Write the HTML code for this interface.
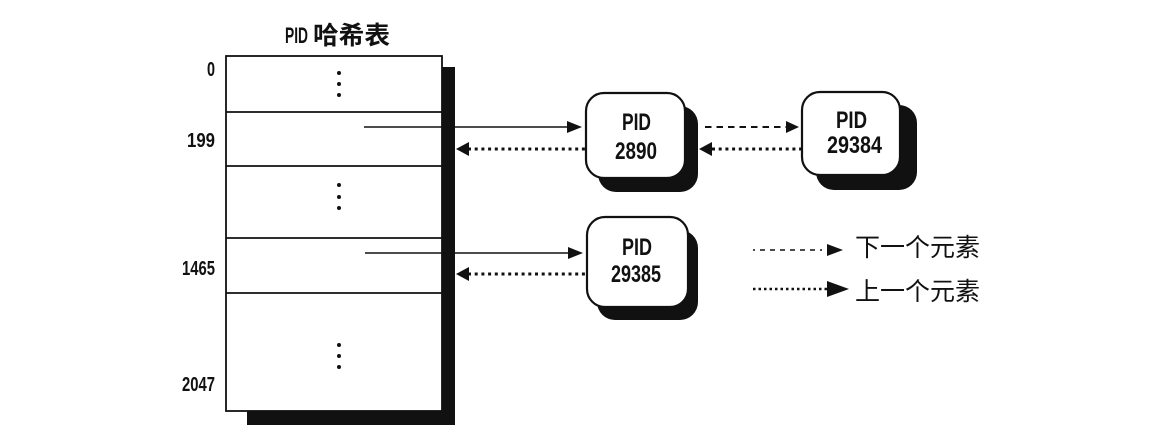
<!DOCTYPE html>
<html><head><meta charset="utf-8"><style>
html,body{margin:0;padding:0;background:#fff;}
svg{display:block;}
</style></head><body>
<svg width="1163" height="441" viewBox="0 0 1163 441" xmlns="http://www.w3.org/2000/svg">
<rect width="1163" height="441" fill="#fff"/>
<!-- title -->
<text x="285" y="43" font-family="Liberation Sans, sans-serif" font-weight="bold" font-size="22" textLength="23" lengthAdjust="spacingAndGlyphs" fill="#111">PID</text>
<text x="313" y="44" font-family="Liberation Sans, 'Noto Sans CJK SC', sans-serif" font-weight="bold" font-size="25" textLength="77" lengthAdjust="spacingAndGlyphs" fill="#111">哈希表</text>

<!-- table shadow -->
<rect x="442" y="67" width="13" height="358" fill="#111"/>
<rect x="247" y="411" width="208" height="14" fill="#111"/>
<!-- table -->
<rect x="226" y="56" width="216" height="355" fill="#fff" stroke="#111" stroke-width="1.8"/>
<g stroke="#111" stroke-width="1.8">
<line x1="226" y1="112" x2="442" y2="112"/>
<line x1="226" y1="166" x2="442" y2="166"/>
<line x1="226" y1="238" x2="442" y2="238"/>
<line x1="226" y1="293" x2="442" y2="293"/>
</g>
<g fill="#111">
<circle cx="339" cy="73" r="2"/><circle cx="339" cy="84" r="2"/><circle cx="339" cy="95" r="2"/>
<circle cx="339" cy="185" r="2"/><circle cx="339" cy="197" r="2"/><circle cx="339" cy="208" r="2"/>
<circle cx="339" cy="345" r="2"/><circle cx="339" cy="356" r="2"/><circle cx="339" cy="367" r="2"/>
</g>
<!-- row labels -->
<g font-family="Liberation Sans, sans-serif" font-weight="bold" font-size="20" fill="#111">
<text x="207" y="76" textLength="8" lengthAdjust="spacingAndGlyphs">0</text>
<text x="187" y="147" textLength="28" lengthAdjust="spacingAndGlyphs">199</text>
<text x="182" y="275" textLength="33" lengthAdjust="spacingAndGlyphs">1465</text>
<text x="182" y="391" textLength="33" lengthAdjust="spacingAndGlyphs">2047</text>
</g>

<!-- nodes shadows -->
<g fill="#111">
<rect x="598" y="106" width="100" height="86" rx="18"/>
<rect x="816" y="105" width="101" height="85" rx="18"/>
<rect x="597" y="230" width="101" height="90" rx="18"/>
</g>
<!-- nodes -->
<g fill="#fff" stroke="#111" stroke-width="2.2">
<rect x="586" y="93" width="99" height="85" rx="18"/>
<rect x="802" y="92" width="98" height="83" rx="18"/>
<rect x="587" y="217" width="101" height="90" rx="18"/>
</g>
<g font-family="Liberation Sans, sans-serif" font-weight="bold" font-size="24" fill="#111">
<text x="622" y="130" textLength="29" lengthAdjust="spacingAndGlyphs">PID</text>
<text x="615" y="159" textLength="42" lengthAdjust="spacingAndGlyphs">2890</text>
<text x="836" y="128" textLength="31" lengthAdjust="spacingAndGlyphs">PID</text>
<text x="827" y="153" textLength="55" lengthAdjust="spacingAndGlyphs">29384</text>
<text x="622" y="255" textLength="30" lengthAdjust="spacingAndGlyphs">PID</text>
<text x="611" y="282" textLength="50" lengthAdjust="spacingAndGlyphs">29385</text>
</g>

<!-- connectors -->
<g stroke="#111" fill="none">
<line x1="364" y1="127" x2="570" y2="127" stroke-width="1.6"/>
<line x1="365" y1="253" x2="570" y2="253" stroke-width="1.6"/>
<line x1="468" y1="149" x2="586" y2="149" stroke-width="3" stroke-dasharray="3 3.7"/>
<line x1="468" y1="274" x2="587" y2="274" stroke-width="3" stroke-dasharray="3 3.7"/>
<line x1="705" y1="127" x2="788" y2="127" stroke-width="2" stroke-dasharray="6.5 5"/>
<line x1="712" y1="149" x2="802" y2="149" stroke-width="3" stroke-dasharray="3 3.7"/>
</g>
<g fill="#111">
<polygon points="582,127 567,121 567,133"/>
<polygon points="583,253 568,247 568,259"/>
<polygon points="456,149 469,142 469,156"/>
<polygon points="456,274 469,267 469,281"/>
<polygon points="799,127 786,121 786,133"/>
<polygon points="699,149 712,142 712,156"/>
</g>

<!-- legend -->
<g stroke="#111" fill="none">
<line x1="753" y1="250" x2="830" y2="250" stroke-width="1.6" stroke-dasharray="2 5 5 5 5 5 5 5 5 5 5 5 5 5"/>
<line x1="753" y1="289" x2="830" y2="289" stroke-width="2.6" stroke-dasharray="2.5 3"/>
</g>
<g fill="#111">
<polygon points="843,250 827,244 827,256"/>
<polygon points="849,289 827,281 827,297"/>
</g>
<g font-family="Liberation Sans, 'Noto Sans CJK SC', sans-serif" font-size="25" fill="#111">
<text x="855" y="256" textLength="125" lengthAdjust="spacingAndGlyphs">下一个元素</text>
<text x="855" y="300" textLength="125" lengthAdjust="spacingAndGlyphs">上一个元素</text>
</g>
</svg>
</body></html>
